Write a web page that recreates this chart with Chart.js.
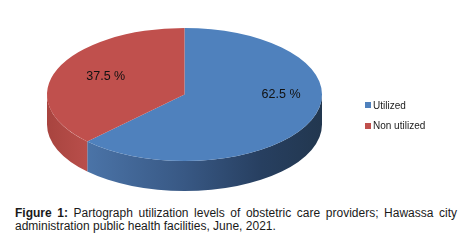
<!DOCTYPE html>
<html><head><meta charset="utf-8">
<script src="https://cdn.jsdelivr.net/npm/chart.js@4/dist/chart.umd.min.js"></script>
<style>
html,body{margin:0;padding:0;background:#fff;}
#wrap{position:relative;width:474px;height:247px;overflow:hidden;background:#fff;}
#c{position:absolute;left:0;top:0;}
#legend{position:absolute;left:365px;top:95px;font:10px "Liberation Sans",Arial,sans-serif;color:#222;}
.li{display:flex;align-items:center;height:20.5px;white-space:nowrap;}
.sw{width:6px;height:6px;margin-right:2px;flex:none;}
#cap{position:absolute;left:15px;top:207px;width:442px;font:12px/13.3px "Liberation Sans",Arial,sans-serif;color:#1a1a1a;text-align:justify;text-align-last:left;}
</style></head>
<body>
<div id="wrap">
<canvas id="c" width="474" height="200"></canvas>
<div id="legend"></div>
<div id="cap"><b>Figure 1:</b> Partograph utilization levels of obstetric care providers; Hawassa city administration public health facilities, June, 2021.</div>
</div>
<script>
const categories = ['Utilized', 'Non utilized'];
const values = [62.5, 37.5];
const valueSuffix = ' %';

const topColors = ['#4F81BD', '#C0504D'];
const sideStops = [
  [[0, '#5583bb'], [0.14, '#4b74a8'], [0.5, '#385884'], [0.78, '#273f60'], [1, '#22374f']],
  [[0, '#a8443f'], [0.14, '#b84e4a'], [1, '#b84e4a']]
];

const pie3d = {
  id: 'pie3d',
  beforeDatasetsDraw(chart, args, opts) {
    const a = chart.chartArea, ctx = chart.ctx;
    const meta = chart.getDatasetMeta(0);
    const rx = (a.right - a.left) / 2;
    const ry = (a.bottom - a.top - opts.depth) / 2;
    const cx = (a.left + a.right) / 2;
    const cy = a.top + ry;
    chart.$ell = { cx, cy, rx, ry };
    meta.data.forEach((arc, i) => {
      const s = arc.startAngle, e = arc.endAngle;
      const g = ctx.createLinearGradient(a.left, 0, a.right, 0);
      opts.sideStops[i].forEach(([t, c]) => g.addColorStop(t, c));
      for (const k of [-2, 0, 2]) {
        const lo = Math.max(s, k * Math.PI), hi = Math.min(e, (k + 1) * Math.PI);
        if (hi > lo) {
          ctx.beginPath();
          ctx.ellipse(cx, cy, rx, ry, 0, lo, hi, false);
          ctx.ellipse(cx, cy + opts.depth, rx, ry, 0, hi, lo, true);
          ctx.closePath();
          ctx.fillStyle = g;
          ctx.fill();
        }
      }
    });
    const arc0 = meta.data[0];
    ctx.save();
    ctx.translate(cx, cy);
    ctx.scale(rx / arc0.outerRadius, ry / arc0.outerRadius);
    ctx.translate(-arc0.x, -arc0.y);
  },
  afterDatasetsDraw(chart, args, opts) {
    const ctx = chart.ctx;
    ctx.restore();
    const e = chart.$ell;
    const meta = chart.getDatasetMeta(0);
    const data = chart.data.datasets[0].data;
    ctx.save();
    ctx.font = opts.font;
    ctx.fillStyle = opts.color;
    ctx.textAlign = 'center';
    ctx.textBaseline = 'alphabetic';
    meta.data.forEach((arc, i) => {
      const mid = (arc.startAngle + arc.endAngle) / 2;
      const f = opts.labelRadius[i];
      const x = e.cx + f * e.rx * Math.cos(mid);
      const y = e.cy + f * e.ry * Math.sin(mid) + opts.labelDy[i];
      ctx.fillText(data[i].toFixed(1) + valueSuffix, x, y);
    });
    ctx.restore();
  }
};

const chart = new Chart(document.getElementById('c'), {
  type: 'pie',
  data: {
    labels: categories,
    datasets: [{
      data: values,
      backgroundColor: topColors,
      borderWidth: 0,
      hoverOffset: 0
    }]
  },
  options: {
    responsive: false,
    devicePixelRatio: 1,
    animation: false,
    events: [],
    layout: { padding: { left: 47, right: 152, top: 28, bottom: 9 } },
    plugins: {
      legend: { display: false },
      tooltip: { enabled: false },
      pie3d: {
        depth: 30,
        sideStops: sideStops,
        labelRadius: [0.76, 0.62],
        labelDy: [-16, 1.5],
        font: '12.5px "Liberation Sans", Arial, sans-serif',
        color: '#111'
      }
    }
  },
  plugins: [pie3d]
});

const leg = document.getElementById('legend');
chart.data.labels.forEach((lab, i) => {
  const row = document.createElement('div');
  row.className = 'li';
  const sw = document.createElement('span');
  sw.className = 'sw';
  sw.style.background = chart.data.datasets[0].backgroundColor[i];
  const tx = document.createElement('span');
  tx.textContent = lab;
  row.appendChild(sw); row.appendChild(tx);
  leg.appendChild(row);
});
</script>
</body></html>
